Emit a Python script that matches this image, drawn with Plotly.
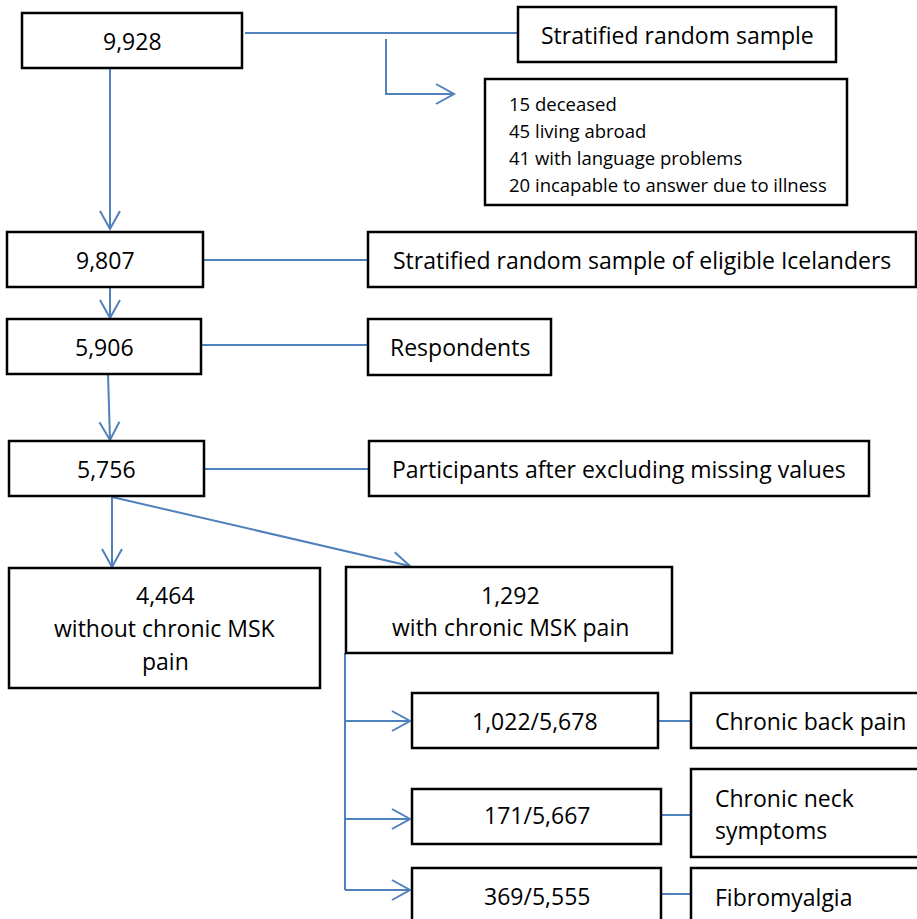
import math
import plotly.graph_objects as go

# ---- content ----
main_counts = ["9,928", "9,807", "5,906", "5,756"]
side_labels = ["Stratified random sample",
               "Stratified random sample of eligible Icelanders",
               "Respondents",
               "Participants after excluding missing values"]
exclusions = ["15 deceased", "45 living abroad",
              "41 with language problems", "20 incapable to answer due to illness"]
split_labels = [["4,464", "without chronic MSK", "pain"],
                ["1,292", "with chronic MSK pain"]]
sub_counts = ["1,022/5,678", "171/5,667", "369/5,555"]
sub_labels = [["Chronic back pain"], ["Chronic neck", "symptoms"], ["Fibromyalgia"]]

# ---- layout geometry (pixel coordinates of the diagram) ----
W, H = 917, 919
BLUE = "#4F81BD"
FONT = "Open Sans"
FS = 23

main_boxes = [(22, 13, 242, 68), (7, 232, 203, 287), (7, 319, 201, 374), (9, 441, 204, 496)]
side_boxes = [(518, 7, 836, 62), (368, 232, 916, 287), (368, 319, 551, 375), (369, 441, 869, 496)]
excl_box = (485, 79, 847, 205)
split_boxes = [(9, 568, 320, 688), (346, 567, 672, 653)]
sub_boxes = [(412, 693, 658, 748), (412, 789, 661, 844), (412, 868, 661, 930)]
sub_side_boxes = [(691, 693, 930, 748), (691, 769, 930, 857), (691, 868, 930, 930)]

fig = go.Figure()
shapes = []
annotations = []


def box(b):
    shapes.append(dict(type="rect", x0=b[0], y0=b[1], x1=b[2], y1=b[3],
                       line=dict(color="black", width=2.5), fillcolor="white",
                       layer="above"))


def line(pts):
    path = "M " + " L ".join(f"{x},{y}" for x, y in pts)
    shapes.append(dict(type="path", path=path, line=dict(color=BLUE, width=2),
                       layer="below"))


def head(tip, frm):
    dx, dy = tip[0] - frm[0], tip[1] - frm[1]
    L = math.hypot(dx, dy)
    ux, uy = dx / L, dy / L
    back, spread = 18, 10
    a = (tip[0] - ux * back - uy * spread, tip[1] - uy * back + ux * spread)
    c = (tip[0] - ux * back + uy * spread, tip[1] - uy * back - ux * spread)
    line([a, tip, c])


def arrow(frm, tip):
    line([frm, tip])
    head(tip, frm)


def text(x, y, s, size=FS, anchor="center"):
    annotations.append(dict(x=x, y=y, text=s, showarrow=False, xanchor=anchor,
                            yanchor="middle",
                            font=dict(family=FONT, size=size, color="black")))


# connectors
line([(245, 33), (518, 33)])
line([(386, 39), (386, 94), (452, 94)])
head((454, 94), (386, 94))
arrow((110, 68), (110, 229))
line([(203, 260), (368, 260)])
arrow((110, 287), (110, 318))
line([(201, 345), (368, 345)])
arrow((108, 374), (110, 440))
line([(199, 469), (369, 469)])
arrow((112, 497), (112, 567))
arrow((112, 497), (410, 566))
line([(345, 653), (345, 890)])
for y in [721, 819, 890]:
    arrow((345, y), (410, y))
for y in [721, 815, 894]:
    line([(658, y), (691, y)])

# boxes + text
for b, s in zip(main_boxes, main_counts):
    box(b)
    text((b[0] + b[2]) / 2, (b[1] + b[3]) / 2, s)
for b, s in zip(side_boxes, side_labels):
    box(b)
    text((b[0] + b[2]) / 2, (b[1] + b[3]) / 2, s)
box(excl_box)
for i, s in enumerate(exclusions):
    text(507, 103 + 27 * i, s, size=18.5, anchor="left")

split_centers = [(165, 628, 33), (510, 611, 32)]
for b, lines_, (cx, cy, sp) in zip(split_boxes, split_labels, split_centers):
    box(b)
    n = len(lines_)
    for i, s in enumerate(lines_):
        text(cx, cy + (i - (n - 1) / 2) * sp, s)

for b, s, y in zip(sub_boxes, sub_counts, [721, 815, 896]):
    box(b)
    text((b[0] + b[2]) / 2, y, s)
for b, lines_, y in zip(sub_side_boxes, sub_labels, [721, 814, 897]):
    box(b)
    n = len(lines_)
    for i, s in enumerate(lines_):
        text(713, y + (i - (n - 1) / 2) * 32, s, anchor="left")

fig.update_layout(
    width=W, height=H, margin=dict(l=0, r=0, t=0, b=0),
    paper_bgcolor="white", plot_bgcolor="white",
    xaxis=dict(range=[0, W], visible=False, fixedrange=True),
    yaxis=dict(range=[H, 0], visible=False, fixedrange=True),
    shapes=shapes, annotations=annotations, showlegend=False,
)
fig.write_html(
    "out.html",
    config={"displayModeBar": False},
    post_script="document.body.style.margin='0';document.body.style.overflow='hidden';",
)
